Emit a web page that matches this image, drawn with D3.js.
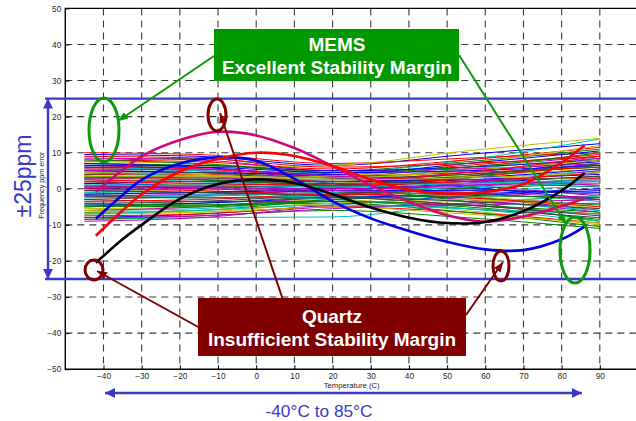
<!DOCTYPE html>
<html>
<head>
<meta charset="utf-8">
<script src="https://cdn.jsdelivr.net/npm/d3@7"></script>
<style>
  html, body { margin: 0; padding: 0; background: #fff; overflow: hidden; }
  svg { display: block; font-family: Arial, "Liberation Sans", sans-serif; }
</style>
</head>
<body>
<svg id="chart" width="636" height="421"></svg>
<script>
// ---- axis ticks ----
const xTicks = [-40, -30, -20, -10, 0, 10, 20, 30, 40, 50, 60, 70, 80, 90];
const yTicks = [-50, -40, -30, -20, -10, 0, 10, 20, 30, 40, 50];
const gridX = [-40, -30, -20, -10, 0, 10, 20, 30, 40, 50, 60, 70, 80, 90];
const gridY = [-40, -30, -20, -10, 0, 10, 20, 30, 40];
const specLimits = [25, -25];

// ---- MEMS oscillators: ppm error at each temperature ----
const memsTemps = [-45, -15, 20, 55, 90];
const memsCurves = [
  [9.5, 9.0, 6.5, 9.5, 12.5], [7.0, 6.5, 5.0, 7.5, 11.0], [10.0, 9.5, 7.0, 8.5, 10.0],
  [5.5, 5.0, 4.5, 8.0, 13.8], [3.0, 3.5, 3.5, 6.0, 9.0], [6.5, 6.0, 6.5, 10.5, 14.0],
  [7.5, 8.5, 4.0, 2.0, 0.5], [4.5, 4.0, 3.0, 5.0, 7.5], [2.0, 2.5, 2.0, 4.0, 6.0],
  [8.0, 7.5, 5.5, 8.0, 11.5], [1.0, 1.5, 2.5, 5.5, 8.5], [6.0, 5.0, 3.0, 1.0, -2.0],
  [-1.0, 0.0, 1.5, 3.5, 5.5], [5.0, 4.5, 1.5, -2.0, -6.0], [0.0, 0.5, 1.0, 2.5, 4.0],
  [3.5, 3.0, 2.0, 3.5, 6.5], [-3.0, -2.0, 0.0, 3.0, 7.0], [2.5, 2.0, 0.5, -1.0, -3.5],
  [-2.0, -1.5, -0.5, 1.0, 2.5], [4.0, 3.5, 2.5, 5.5, 10.0], [-4.0, -3.5, -1.5, 0.5, 3.0],
  [1.5, 1.0, 0.0, 1.5, 3.5], [-5.0, -4.0, -2.0, 0.0, 1.5], [6.5, 5.5, 3.5, 4.5, 6.0],
  [-6.0, -5.5, -3.0, -1.0, 1.0], [0.5, 0.0, -1.0, -3.0, -6.5], [-7.0, -6.5, -4.0, -3.5, -2.0],
  [3.0, 2.5, 1.0, 0.0, -1.5], [-8.0, -7.0, -4.5, -2.0, -0.5], [-0.5, -1.0, -1.5, -2.5, -4.5],
  [5.5, 5.5, 4.0, 6.5, 9.5], [-8.5, -8.0, -7.8, -4.0, -2.0], [-9.0, -8.0, -5.0, -4.5, -4.0],
  [2.0, 1.0, -0.5, -2.0, -5.0], [-1.5, -1.0, 0.5, 2.0, 4.5], [7.0, 6.0, 3.0, 0.5, -3.0],
  [-6.5, -6.0, -3.5, -5.0, -8.5], [4.0, 4.0, 2.0, 2.5, 3.0], [-2.5, -2.5, -2.0, -3.5, -6.0],
  [8.5, 8.0, 5.0, 5.5, 7.0], [-5.5, -5.0, -3.0, -6.0, -10.0], [1.0, 0.5, 1.0, 3.5, 8.0],
  [-4.5, -4.0, -2.5, -1.5, 0.0], [3.5, 2.5, 0.5, -3.5, -9.0], [-7.5, -7.0, -5.0, -6.5, -9.5],
  [6.0, 5.0, 2.5, 3.0, 5.0], [-0.5, 0.0, 0.0, 1.0, 2.0], [2.5, 3.0, 3.5, 7.0, 12.0],
  [-3.0, -3.5, -3.5, -5.5, -8.0], [5.0, 4.5, 4.0, 7.0, 10.5], [-8.5, -7.5, -6.0, -8.0, -11.0],
  [0.0, -0.5, -2.0, -4.5, -7.0], [4.5, 3.5, 1.5, 1.5, 2.0], [-6.0, -5.0, -2.0, 1.5, 5.0],
  [7.5, 7.0, 4.5, 3.5, 2.5], [-2.0, -2.0, -1.0, -1.5, -3.0], [1.5, 2.0, 2.0, 3.0, 5.5],
  [-4.0, -4.5, -4.0, -6.5, -10.5], [9.0, 8.5, 6.0, 7.0, 9.0], [-1.0, -1.5, -3.0, -5.5, -9.0],
  [3.0, 3.0, 2.5, 4.5, 8.5], [-7.0, -6.0, -4.0, -3.0, -5.5], [0.5, 1.0, 1.5, 2.0, 3.5],
  [6.5, 6.5, 5.0, 6.0, 8.0], [-5.0, -4.5, -3.5, -4.5, -6.5], [2.0, 1.5, 1.0, 2.0, 4.5],
  [-2.5, -2.0, -1.0, 0.5, 1.5], [5.0, 5.5, 3.5, 2.5, 1.0], [-6.0, -6.5, -5.0, -7.0, -9.5],
  [4.0, 4.5, 3.0, 4.0, 7.0], [-1.5, -1.0, -0.5, -0.5, -1.0], [8.0, 7.0, 4.5, 6.0, 10.0],
  [-3.5, -3.0, -1.5, -2.5, -5.0], [1.0, 1.0, 0.5, 1.5, 2.5], [-8.0, -7.5, -5.5, -4.0, -3.0],
  [3.5, 3.5, 3.0, 5.0, 8.0], [-0.5, -1.0, -2.0, -3.5, -5.5], [6.0, 6.0, 4.5, 5.0, 6.5],
  [-4.5, -5.0, -3.0, -2.0, -2.5], [2.5, 2.0, 2.0, 4.5, 9.0], [-7.0, -6.0, -4.5, -5.5, -7.0],
  [0.5, 0.5, -0.5, -1.0, -2.5], [4.5, 4.0, 2.5, 3.0, 4.5], [-2.0, -2.5, -2.5, -4.5, -7.5]
];
const lineColors = ["#0000ff", "#008000", "#ff0000", "#00bfbf", "#bf00bf", "#bfbf00", "#404040"];

// ---- Quartz crystals: ppm error at each temperature ----
const quartzTemps = [-42, -35, -30, -20, -10, 0, 10, 20, 30, 40, 50, 60, 70, 80, 86];
const quartzMagenta = [-0.8, 5.2, 9.0, 13.5, 15.8, 14.8, 11.3, 6.3, 1.0, -3.6, -7.3, -9.1, -7.7, -4.8, -2.7];
const quartzRed     = [-13.0, -6.0, -1.5, 4.8, 8.3, 10.0, 9.1, 6.3, 2.6, -0.3, -1.3, -0.9, 1.3, 7.3, 12.1];
const quartzBlue    = [-8.3, -1.7, 2.5, 7.0, 8.7, 7.8, 2.8, -3.5, -8.2, -11.7, -14.7, -16.8, -17.0, -14.0, -10.5];
const quartzBlack   = [-20.5, -14.0, -10.0, -2.8, 1.3, 2.6, 1.6, -1.5, -5.2, -8.0, -9.5, -9.2, -6.2, -0.5, 4.4];

const svg = d3.select("#chart");
const W = 636, H = 421;

const x = d3.scaleLinear().domain([-50, 100]).range([65.3, 638]);
const y = d3.scaleLinear().domain([-50, 50]).range([369.2, 8.4]);

svg.append("rect").attr("width", W).attr("height", H).attr("fill", "#fff");

// arrowhead markers
const defs = svg.append("defs");
function marker(id, color, len, wid) {
  defs.append("marker")
    .attr("id", id).attr("markerUnits", "userSpaceOnUse")
    .attr("viewBox", `0 ${-wid / 2} ${len} ${wid}`)
    .attr("refX", len).attr("refY", 0)
    .attr("markerWidth", len).attr("markerHeight", wid)
    .attr("orient", "auto-start-reverse")
    .append("path").attr("d", `M0,${-wid / 2}L${len},0L0,${wid / 2}Z`).attr("fill", color);
}
marker("arrBlue", "#3a3ac8", 10, 10);
marker("arrGreen", "#0a9a0a", 10, 8);
marker("arrRed", "#800000", 10, 8);

// dashed grid
const grid = svg.append("g").attr("stroke", "#3a3a3a").attr("stroke-width", 1.1)
  .attr("stroke-dasharray", "7,5");
grid.selectAll(".gx").data(gridX).join("line")
  .attr("x1", d => x(d)).attr("x2", d => x(d))
  .attr("y1", y(50)).attr("y2", y(-50));
grid.selectAll(".gy").data(gridY).join("line")
  .attr("x1", x(-50)).attr("x2", x(100))
  .attr("y1", d => y(d)).attr("y2", d => y(d));

// MEMS bundle
const memsLine = d3.line()
  .x((d, i) => x(memsTemps[i]))
  .y(d => y(d))
  .curve(d3.curveMonotoneX);
svg.append("g").attr("fill", "none").attr("stroke-width", 1)
  .selectAll("path").data(memsCurves).join("path")
  .attr("d", memsLine)
  .attr("stroke", (d, i) => lineColors[i % lineColors.length]);

// quartz curves
const quartzLine = d3.line()
  .x((d, i) => x(quartzTemps[i]))
  .y(d => y(d))
  .curve(d3.curveCatmullRom);
const quartz = [
  { v: quartzMagenta, c: "#cc0a78" },
  { v: quartzBlue, c: "#0000e6" },
  { v: quartzRed, c: "#ff0000" },
  { v: quartzBlack, c: "#000000" }
];
svg.append("g").attr("fill", "none").attr("stroke-width", 2.6)
  .selectAll("path").data(quartz).join("path")
  .attr("d", d => quartzLine(d.v))
  .attr("stroke", d => d.c);

// axes frame, inward ticks and labels
svg.append("g").attr("transform", `translate(0,${y(-50)})`)
  .call(d3.axisBottom(x).tickValues(xTicks).tickSize(-4).tickPadding(4).tickFormat(d3.format("d")))
  .call(g => g.select(".domain").remove())
  .call(g => g.selectAll("text").attr("font-size", 8.3).attr("fill", "#2a2a2a").attr("font-family", "Arial, 'Liberation Sans', sans-serif"))
  .call(g => g.selectAll("line").attr("stroke", "#000"));
svg.append("g").attr("transform", `translate(${x(-50)},0)`)
  .call(d3.axisLeft(y).tickValues(yTicks).tickSize(-4).tickPadding(4).tickFormat(d3.format("d")))
  .call(g => g.select(".domain").remove())
  .call(g => g.selectAll("text").attr("font-size", 8.3).attr("fill", "#2a2a2a").attr("font-family", "Arial, 'Liberation Sans', sans-serif"))
  .call(g => g.selectAll("line").attr("stroke", "#000"));
svg.append("path")
  .attr("d", `M${x(100)},${y(50)}H${x(-50)}V${y(-50)}H${x(100)}`)
  .attr("fill", "none").attr("stroke", "#000").attr("stroke-width", 1.4);

svg.append("text").attr("x", x(25)).attr("y", 388)
  .attr("text-anchor", "middle").attr("font-size", 7.7).attr("fill", "#222")
  .text("Temperature (C)");
svg.append("text").attr("transform", `translate(44,${y(1)}) rotate(-90)`)
  .attr("text-anchor", "middle").attr("font-size", 7.2).attr("fill", "#222")
  .text("Frequency ppm error");

// ±25 ppm limits
const blue = "#3a3ac8";
svg.append("g").attr("stroke", blue).attr("stroke-width", 2.4)
  .selectAll("line").data(specLimits).join("line")
  .attr("x1", 45).attr("x2", W)
  .attr("y1", d => y(d)).attr("y2", d => y(d));
svg.append("line").attr("x1", 48).attr("x2", 48)
  .attr("y1", y(25)).attr("y2", y(-25))
  .attr("stroke", blue).attr("stroke-width", 2.4)
  .attr("marker-start", "url(#arrBlue)").attr("marker-end", "url(#arrBlue)");
svg.append("text").attr("transform", "translate(31,176) rotate(-90)")
  .attr("text-anchor", "middle").attr("font-size", 23).attr("fill", blue)
  .text("±25ppm");

// temperature range
svg.append("line").attr("x1", 105).attr("x2", 582).attr("y1", 393).attr("y2", 393)
  .attr("stroke", blue).attr("stroke-width", 2.4)
  .attr("marker-start", "url(#arrBlue)").attr("marker-end", "url(#arrBlue)");
svg.append("text").attr("x", 319).attr("y", 417)
  .attr("text-anchor", "middle").attr("font-size", 17.3).attr("fill", blue)
  .text("-40°C to 85°C");

// MEMS callout
const green = "#0a9a0a";
svg.append("g").attr("fill", "none").attr("stroke", green).attr("stroke-width", 3)
  .selectAll("ellipse").data([[104, 130, 15, 32], [575, 250, 15, 33]]).join("ellipse")
  .attr("cx", d => d[0]).attr("cy", d => d[1]).attr("rx", d => d[2]).attr("ry", d => d[3]);
svg.append("g").attr("stroke", green).attr("stroke-width", 2)
  .selectAll("line").data([[214, 56, 118, 121], [459, 55, 566, 224]]).join("line")
  .attr("x1", d => d[0]).attr("y1", d => d[1]).attr("x2", d => d[2]).attr("y2", d => d[3])
  .attr("marker-end", "url(#arrGreen)");
svg.append("rect").attr("x", 214).attr("y", 29).attr("width", 245).attr("height", 52).attr("fill", "#009900");
svg.append("text").attr("x", 337).attr("y", 51).attr("text-anchor", "middle")
  .attr("font-size", 19).attr("font-weight", "bold").attr("fill", "#fff").text("MEMS");
svg.append("text").attr("x", 337).attr("y", 74).attr("text-anchor", "middle")
  .attr("font-size", 19).attr("font-weight", "bold").attr("fill", "#fff").text("Excellent Stability Margin");

// Quartz callout
const maroon = "#800000";
svg.append("g").attr("fill", "none").attr("stroke", maroon).attr("stroke-width", 3)
  .selectAll("ellipse").data([[94, 270, 9, 10], [217, 115, 9, 16], [501, 266, 8, 15]]).join("ellipse")
  .attr("cx", d => d[0]).attr("cy", d => d[1]).attr("rx", d => d[2]).attr("ry", d => d[3]);
svg.append("g").attr("stroke", maroon).attr("stroke-width", 2)
  .selectAll("line").data([[200, 328, 97, 271], [283, 300, 220, 113], [466, 315, 503, 262]]).join("line")
  .attr("x1", d => d[0]).attr("y1", d => d[1]).attr("x2", d => d[2]).attr("y2", d => d[3])
  .attr("marker-end", "url(#arrRed)");
svg.append("rect").attr("x", 198).attr("y", 298).attr("width", 268).attr("height", 58).attr("fill", maroon);
svg.append("text").attr("x", 332).attr("y", 323).attr("text-anchor", "middle")
  .attr("font-size", 19).attr("font-weight", "bold").attr("fill", "#fff").text("Quartz");
svg.append("text").attr("x", 332).attr("y", 346).attr("text-anchor", "middle")
  .attr("font-size", 19).attr("font-weight", "bold").attr("fill", "#fff").text("Insufficient Stability Margin");
</script>
</body>
</html>
